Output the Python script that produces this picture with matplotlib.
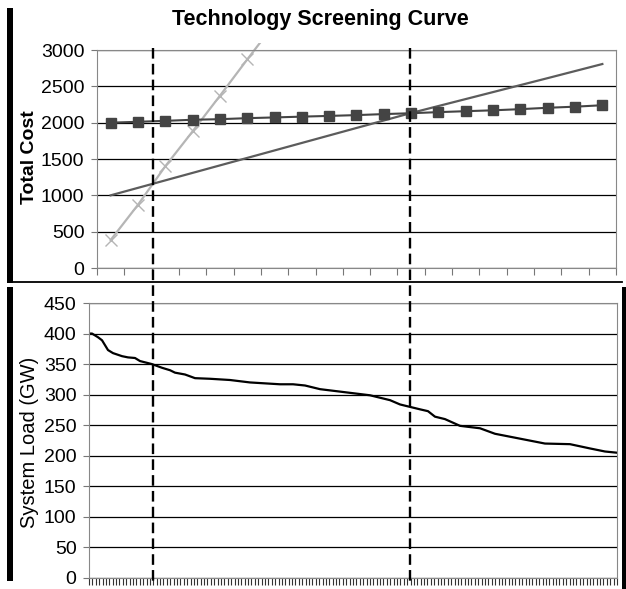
import numpy as np
import matplotlib.pyplot as plt
from matplotlib.lines import Line2D
from matplotlib.patches import Rectangle

plt.rcParams['font.family'] = ['Liberation Sans', 'DejaVu Sans']

# Screening curve: total cost per technology over 19 categories
peaker_cost = [385, 870, 1400, 1880, 2370, 2870, 3360]
mid_cost = [1000, 1103, 1206, 1309, 1412, 1515, 1618, 1721, 1824, 1927,
            2030, 2133, 2229, 2325, 2421, 2517, 2613, 2710, 2807]
base_cost = [2000, 2012, 2025, 2040, 2048, 2062, 2072, 2083, 2093, 2104,
             2118, 2130, 2145, 2158, 2170, 2186, 2205, 2220, 2240]

# Load duration curve (hour of year, GW)
load_hours = [0, 50, 149, 216, 315, 398, 548, 647, 763, 846, 1045, 1211,
              1344, 1427, 1593, 1759, 2008, 2339, 2671, 3169, 3385, 3584,
              3833, 4082, 4330, 4662, 4994, 5160, 5326, 5492, 5624, 5740,
              5906, 6155, 6487, 6736, 7151, 7565, 7980, 8312, 8561, 8760]
load_gw = [400, 400, 394, 389, 373, 368, 363, 361, 360, 355, 350, 344,
           340, 336, 333, 327, 326, 324, 320, 317, 317, 315,
           309, 306, 303, 299, 291, 284, 280, 276, 273, 264,
           260, 249, 245, 236, 228, 220, 219, 212, 207, 205]

W, H = 626, 589
fig = plt.figure(figsize=(W / 100, H / 100), dpi=100)


def px_box(x0, y0, x1, y1):
    return [x0 / W, 1 - y1 / H, (x1 - x0) / W, (y1 - y0) / H]


ax1 = fig.add_axes(px_box(97, 50, 616, 268))
ax2 = fig.add_axes(px_box(89, 303, 617, 578))

# top chart
x_cat = np.arange(len(mid_cost))
peak_line, = ax1.plot(np.arange(len(peaker_cost)), peaker_cost,
                      color='#b5b5b5', lw=1.6, marker='x', ms=8.5, mew=1.0)
# the peaker line runs a little past the top of the plot area, as in Excel
peak_line.set_clip_path(Rectangle((0, 0), 1, 1.03, transform=ax1.transAxes))
ax1.plot(x_cat, mid_cost, color='#5c5c5c', lw=1.6)
ax1.plot(x_cat, base_cost, color='#444444', lw=1.5, marker='s', ms=7.5)

ax1.set_xlim(-0.5, len(mid_cost) - 0.5)
ax1.set_ylim(0, 3000)
ax1.set_yticks(range(0, 3001, 500))
ax1.set_xticks(np.arange(-0.5, len(mid_cost), 1))
ax1.tick_params(axis='x', direction='out', length=5, color='#777777',
                labelbottom=False)
ax1.tick_params(axis='y', direction='out', length=4, color='#777777',
                labelsize=14, pad=5)
ax1.yaxis.grid(True, color='black', lw=0.9)
ax1.set_axisbelow(True)
for s in ax1.spines.values():
    s.set_color('#888888')

# bottom chart
ax2.plot(load_hours, load_gw, color='black', lw=1.6)
ax2.set_xlim(0, 8760)
ax2.set_ylim(0, 450)
ax2.set_yticks(range(0, 451, 50))
ax2.set_xticks(np.linspace(0, 8760, 157))
ax2.tick_params(axis='x', direction='out', length=5, width=0.8,
                color='#333333', labelbottom=False)
ax2.tick_params(axis='y', direction='out', length=4, color='#777777',
                labelsize=14, pad=5)
ax2.yaxis.grid(True, color='black', lw=0.9)
ax2.set_axisbelow(True)
for s in ax2.spines.values():
    s.set_color('#888888')

# titles and labels
fig.text(320 / W, 1 - 20 / H, 'Technology Screening Curve', ha='center',
         va='center', fontsize=15.5, fontweight='bold')
fig.text(29 / W, 1 - 157 / H, 'Total Cost', rotation=90, ha='center',
         va='center', fontsize=14, fontweight='bold')
fig.text(30 / W, 1 - 442 / H, 'System Load (GW)', rotation=90, ha='center',
         va='center', fontsize=14.5)


# crossing points of the cost curves -> dashed lines through both charts
def crossing(a, b):
    d = np.array(a, float) - np.array(b[:len(a)], float)
    i = np.where(np.sign(d[:-1]) != np.sign(d[1:]))[0][0]
    return i + d[i] / (d[i] - d[i + 1])


cross1 = crossing(peaker_cost, mid_cost)
cross2 = crossing(mid_cost, base_cost)
to_fig = fig.transFigure.inverted()
for c in [cross1, cross2]:
    fx = to_fig.transform(ax1.transData.transform((c, 0)))[0]
    fig.add_artist(Line2D([fx, fx], [1 - 48 / H, 1 - 582 / H], color='black',
                          lw=1.7, linestyle=(0, (4.5, 2.2))))

# frame pieces around the two charts
fig.add_artist(Rectangle((7 / W, 1 - 283 / H), 6 / W, 275 / H,
                         color='black', lw=0))
fig.add_artist(Rectangle((7 / W, 1 - 581 / H), 6 / W, 294 / H,
                         color='black', lw=0))
fig.add_artist(Line2D([13 / W, 622 / W], [1 - 282 / H, 1 - 282 / H],
                      color='black', lw=1.3))
fig.add_artist(Rectangle((622 / W, 0), 4 / W, 302 / H, color='black', lw=0))

fig.savefig('out.png', dpi=100)
